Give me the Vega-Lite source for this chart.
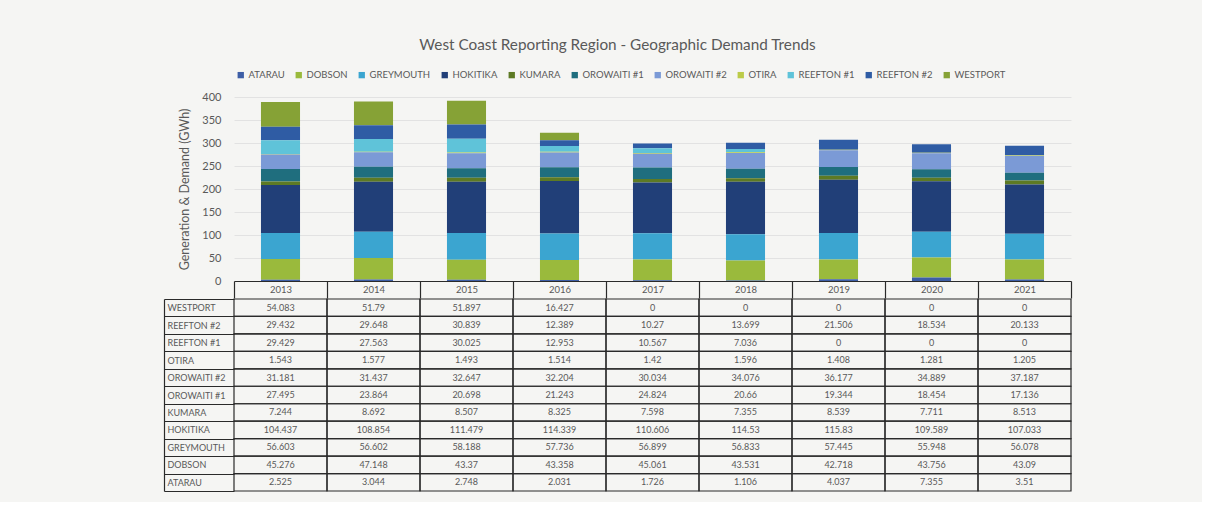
{
  "$schema": "https://vega.github.io/schema/vega-lite/v6.json",
  "background": "#f5f5f3",
  "padding": {"left": 163, "top": 37, "right": 130, "bottom": 10},
  "title": {"text": "West Coast Reporting Region - Geographic Demand Trends", "fontSize": 15.3, "fontWeight": "normal", "color": "#595959", "font": "Lato", "anchor": "middle", "frame": "bounds", "offset": 17},
  "config": {"font": "Lato", "view": {"stroke": null}},
  "spacing": -4,
  "data": {"values": [
    {"year":"2013","series":"WESTPORT","value":54.083},
    {"year":"2013","series":"REEFTON #2","value":29.432},
    {"year":"2013","series":"REEFTON #1","value":29.429},
    {"year":"2013","series":"OTIRA","value":1.543},
    {"year":"2013","series":"OROWAITI #2","value":31.181},
    {"year":"2013","series":"OROWAITI #1","value":27.495},
    {"year":"2013","series":"KUMARA","value":7.244},
    {"year":"2013","series":"HOKITIKA","value":104.437},
    {"year":"2013","series":"GREYMOUTH","value":56.603},
    {"year":"2013","series":"DOBSON","value":45.276},
    {"year":"2013","series":"ATARAU","value":2.525},
    {"year":"2014","series":"WESTPORT","value":51.79},
    {"year":"2014","series":"REEFTON #2","value":29.648},
    {"year":"2014","series":"REEFTON #1","value":27.563},
    {"year":"2014","series":"OTIRA","value":1.577},
    {"year":"2014","series":"OROWAITI #2","value":31.437},
    {"year":"2014","series":"OROWAITI #1","value":23.864},
    {"year":"2014","series":"KUMARA","value":8.692},
    {"year":"2014","series":"HOKITIKA","value":108.854},
    {"year":"2014","series":"GREYMOUTH","value":56.602},
    {"year":"2014","series":"DOBSON","value":47.148},
    {"year":"2014","series":"ATARAU","value":3.044},
    {"year":"2015","series":"WESTPORT","value":51.897},
    {"year":"2015","series":"REEFTON #2","value":30.839},
    {"year":"2015","series":"REEFTON #1","value":30.025},
    {"year":"2015","series":"OTIRA","value":1.493},
    {"year":"2015","series":"OROWAITI #2","value":32.647},
    {"year":"2015","series":"OROWAITI #1","value":20.698},
    {"year":"2015","series":"KUMARA","value":8.507},
    {"year":"2015","series":"HOKITIKA","value":111.479},
    {"year":"2015","series":"GREYMOUTH","value":58.188},
    {"year":"2015","series":"DOBSON","value":43.37},
    {"year":"2015","series":"ATARAU","value":2.748},
    {"year":"2016","series":"WESTPORT","value":16.427},
    {"year":"2016","series":"REEFTON #2","value":12.389},
    {"year":"2016","series":"REEFTON #1","value":12.953},
    {"year":"2016","series":"OTIRA","value":1.514},
    {"year":"2016","series":"OROWAITI #2","value":32.204},
    {"year":"2016","series":"OROWAITI #1","value":21.243},
    {"year":"2016","series":"KUMARA","value":8.325},
    {"year":"2016","series":"HOKITIKA","value":114.339},
    {"year":"2016","series":"GREYMOUTH","value":57.736},
    {"year":"2016","series":"DOBSON","value":43.358},
    {"year":"2016","series":"ATARAU","value":2.031},
    {"year":"2017","series":"WESTPORT","value":0},
    {"year":"2017","series":"REEFTON #2","value":10.27},
    {"year":"2017","series":"REEFTON #1","value":10.567},
    {"year":"2017","series":"OTIRA","value":1.42},
    {"year":"2017","series":"OROWAITI #2","value":30.034},
    {"year":"2017","series":"OROWAITI #1","value":24.824},
    {"year":"2017","series":"KUMARA","value":7.598},
    {"year":"2017","series":"HOKITIKA","value":110.606},
    {"year":"2017","series":"GREYMOUTH","value":56.899},
    {"year":"2017","series":"DOBSON","value":45.061},
    {"year":"2017","series":"ATARAU","value":1.726},
    {"year":"2018","series":"WESTPORT","value":0},
    {"year":"2018","series":"REEFTON #2","value":13.699},
    {"year":"2018","series":"REEFTON #1","value":7.036},
    {"year":"2018","series":"OTIRA","value":1.596},
    {"year":"2018","series":"OROWAITI #2","value":34.076},
    {"year":"2018","series":"OROWAITI #1","value":20.66},
    {"year":"2018","series":"KUMARA","value":7.355},
    {"year":"2018","series":"HOKITIKA","value":114.53},
    {"year":"2018","series":"GREYMOUTH","value":56.833},
    {"year":"2018","series":"DOBSON","value":43.531},
    {"year":"2018","series":"ATARAU","value":1.106},
    {"year":"2019","series":"WESTPORT","value":0},
    {"year":"2019","series":"REEFTON #2","value":21.506},
    {"year":"2019","series":"REEFTON #1","value":0},
    {"year":"2019","series":"OTIRA","value":1.408},
    {"year":"2019","series":"OROWAITI #2","value":36.177},
    {"year":"2019","series":"OROWAITI #1","value":19.344},
    {"year":"2019","series":"KUMARA","value":8.539},
    {"year":"2019","series":"HOKITIKA","value":115.83},
    {"year":"2019","series":"GREYMOUTH","value":57.445},
    {"year":"2019","series":"DOBSON","value":42.718},
    {"year":"2019","series":"ATARAU","value":4.037},
    {"year":"2020","series":"WESTPORT","value":0},
    {"year":"2020","series":"REEFTON #2","value":18.534},
    {"year":"2020","series":"REEFTON #1","value":0},
    {"year":"2020","series":"OTIRA","value":1.281},
    {"year":"2020","series":"OROWAITI #2","value":34.889},
    {"year":"2020","series":"OROWAITI #1","value":18.454},
    {"year":"2020","series":"KUMARA","value":7.711},
    {"year":"2020","series":"HOKITIKA","value":109.589},
    {"year":"2020","series":"GREYMOUTH","value":55.948},
    {"year":"2020","series":"DOBSON","value":43.756},
    {"year":"2020","series":"ATARAU","value":7.355},
    {"year":"2021","series":"WESTPORT","value":0},
    {"year":"2021","series":"REEFTON #2","value":20.133},
    {"year":"2021","series":"REEFTON #1","value":0},
    {"year":"2021","series":"OTIRA","value":1.205},
    {"year":"2021","series":"OROWAITI #2","value":37.187},
    {"year":"2021","series":"OROWAITI #1","value":17.136},
    {"year":"2021","series":"KUMARA","value":8.513},
    {"year":"2021","series":"HOKITIKA","value":107.033},
    {"year":"2021","series":"GREYMOUTH","value":56.078},
    {"year":"2021","series":"DOBSON","value":43.09},
    {"year":"2021","series":"ATARAU","value":3.51}
  ]},
  "vconcat": [
    {
      "width": 837,
      "height": 184,
      "mark": {"type": "bar", "width": {"band": 0.42}},
      "encoding": {
        "x": {"field": "year", "type": "nominal", "scale": {"paddingInner": 0, "paddingOuter": 0},
          "axis": {"title": null, "labelAngle": 0, "domainColor": "#2a2a2a", "domainWidth": 1.2, "tickColor": "#2a2a2a", "tickWidth": 1.2, "tickSize": 17, "tickBand": "extent", "labelPadding": -8.5, "labelBaseline": "middle", "labelFontSize": 9.5, "labelColor": "#595959", "grid": false}},
        "y": {"field": "value", "type": "quantitative", "stack": "zero", "scale": {"domain": [0, 400]},
          "axis": {"title": "Generation & Demand (GWh)", "values": [0, 50, 100, 150, 200, 250, 300, 350, 400], "titleFontSize": 12.5, "titleFontWeight": "normal", "titleColor": "#595959", "labelColor": "#595959", "labelFontSize": 11, "labelPadding": 13, "ticks": false, "domain": false, "gridColor": "#e2e2e2", "titlePadding": 10}},
        "order": {"field": "series", "sort": "ascending"},
        "color": {"field": "series", "type": "nominal",
          "scale": {"domain": ["ATARAU", "DOBSON", "GREYMOUTH", "HOKITIKA", "KUMARA", "OROWAITI #1", "OROWAITI #2", "OTIRA", "REEFTON #1", "REEFTON #2", "WESTPORT"],
                    "range": ["#3d5ea6", "#9aba3c", "#3ba5d0", "#213f78", "#5d7a24", "#1f6e7e", "#7b9ad6", "#bccb48", "#5fc3d9", "#2f5ca4", "#86a236"]},
          "legend": {"orient": "none", "legendX": 2, "legendY": -27, "direction": "horizontal", "columns": 11, "title": null, "symbolType": "square", "symbolSize": 40, "symbolStrokeWidth": 0, "labelFontSize": 9.5, "labelColor": "#595959", "columnPadding": 9, "labelOffset": 3}}
      }
    },
    {
      "width": 837,
      "height": 192,
      "encoding": {
        "x": {"field": "year", "type": "nominal", "scale": {"paddingInner": 0, "paddingOuter": 0}, "axis": null},
        "y": {"field": "series", "type": "nominal", "sort": "descending", "scale": {"paddingInner": 0, "paddingOuter": 0},
          "axis": {"title": null, "orient": "left", "offset": 70, "domainColor": "#2a2a2a", "domainWidth": 1.2, "tickColor": "#2a2a2a", "tickWidth": 1.2, "tickSize": -70, "tickBand": "extent", "labelAlign": "left", "labelPadding": 67, "labelFontSize": 9, "labelColor": "#595959", "grid": false}}
      },
      "layer": [
        {"mark": {"type": "rect", "fill": "transparent", "stroke": "#2a2a2a", "strokeWidth": 1.2}},
        {"mark": {"type": "text", "fontSize": 9, "color": "#595959"}, "encoding": {"text": {"field": "value", "type": "nominal"}}}
      ]
    }
  ]
}
